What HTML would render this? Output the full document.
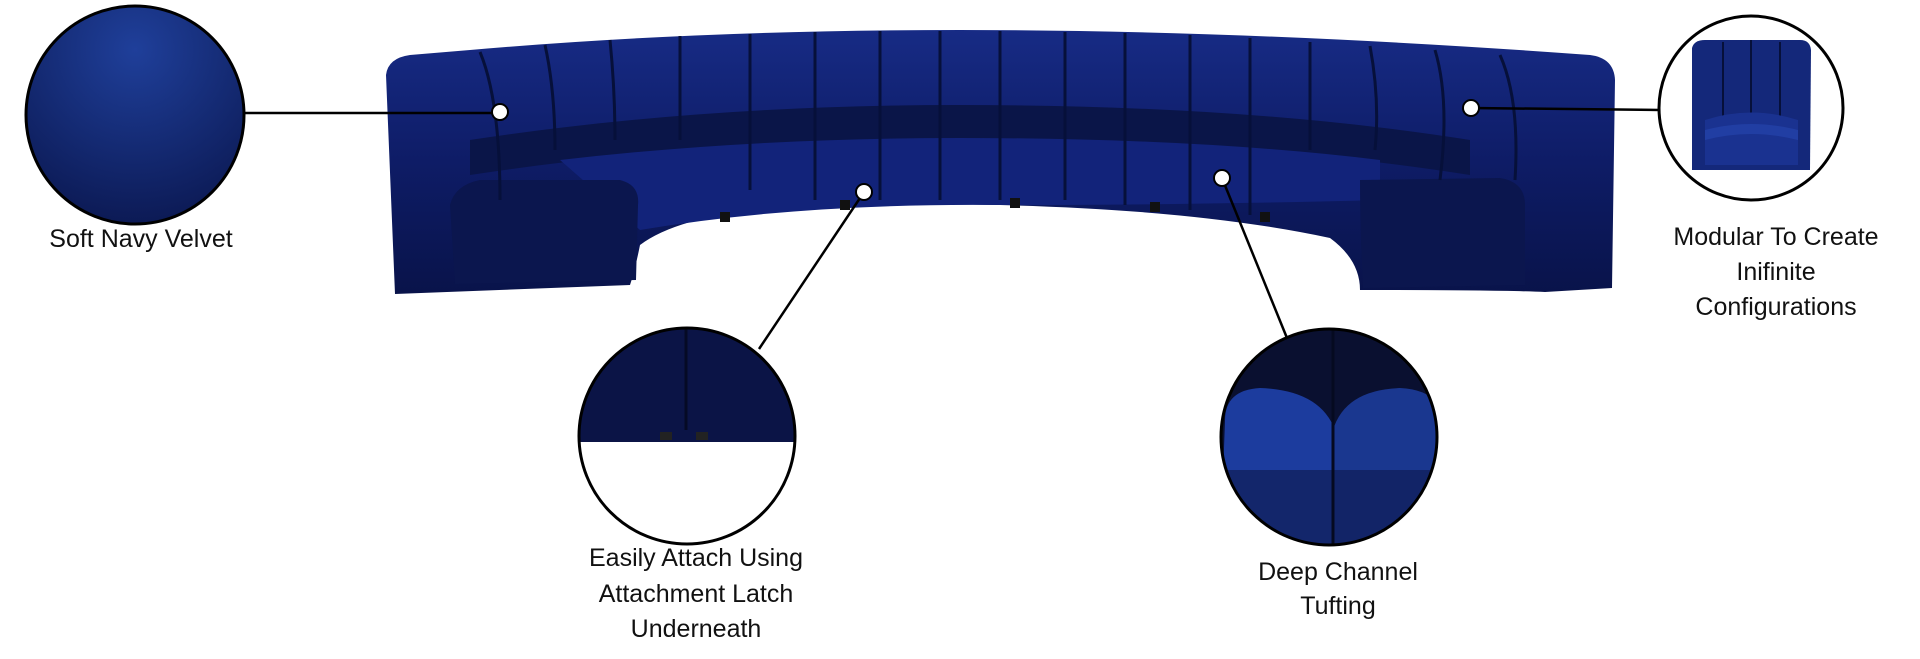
<!DOCTYPE html>
<html><head><meta charset="utf-8"><style>
html,body{margin:0;padding:0;background:#fff;width:1920px;height:659px;overflow:hidden}
svg{display:block}
text{font-family:"Liberation Sans",sans-serif;font-size:25px;fill:#111;text-anchor:middle}
</style></head><body>
<svg width="1920" height="659" viewBox="0 0 1920 659" xmlns="http://www.w3.org/2000/svg">
<defs>
<radialGradient id="vel" cx="50%" cy="20%" r="80%">
<stop offset="0" stop-color="#1f3f9a"/><stop offset="1" stop-color="#0c1a55"/></radialGradient>
<linearGradient id="sofa" x1="0" y1="0" x2="0" y2="1">
<stop offset="0" stop-color="#172b85"/><stop offset="0.5" stop-color="#0e1c66"/><stop offset="1" stop-color="#09134a"/></linearGradient>
<clipPath id="c1"><circle cx="687" cy="436" r="107"/></clipPath>
<clipPath id="c2"><circle cx="1329" cy="437" r="107"/></clipPath>
<clipPath id="c3"><circle cx="1751" cy="108" r="91"/></clipPath>
</defs>

<!-- sofa body -->
<path d="M386,75 Q388,58 410,55 L470,50 Q700,30 960,30 Q1250,30 1590,55 Q1614,58 1615,80 L1612,288 L1545,292 Q1500,290 1360,290 Q1360,260 1330,238 Q1200,210 1000,205 Q880,202 780,208 Q680,215 640,245 Q635,270 630,285 L395,294 Z" fill="url(#sofa)"/>
<!-- seat band -->
<path d="M470,140 Q700,105 960,105 Q1250,105 1470,140 L1470,175 Q1250,140 960,140 Q700,140 470,175 Z" fill="#0a1548"/>
<path d="M560,160 Q750,138 960,138 Q1200,138 1380,160 L1380,200 Q1200,205 1000,205 Q800,203 640,230 Z" fill="#12237a"/>
<!-- arms -->
<path d="M450,205 Q455,185 480,180 L620,180 Q640,185 638,205 L636,280 L455,284 Z" fill="#0b164e"/>
<path d="M1360,180 L1500,178 Q1525,182 1525,205 L1525,285 L1363,288 Q1360,230 1360,180 Z" fill="#0b164e"/>
<!-- channels -->
<g stroke="#06103a" stroke-width="3" fill="none">
<path d="M480,52 Q500,100 500,200"/><path d="M545,45 Q555,90 555,150"/><path d="M610,40 Q615,90 615,140"/>
<path d="M680,36 L680,140"/><path d="M750,34 L750,190"/><path d="M815,32 L815,200"/><path d="M880,31 L880,200"/>
<path d="M940,31 L940,200"/><path d="M1000,31 L1000,200"/><path d="M1065,32 L1065,200"/><path d="M1125,33 L1125,205"/>
<path d="M1190,35 L1190,210"/><path d="M1250,38 L1250,215"/><path d="M1310,42 L1310,150"/><path d="M1370,46 Q1380,100 1375,150"/>
<path d="M1435,50 Q1450,100 1440,180"/><path d="M1500,55 Q1520,100 1515,180"/>
</g>
<!-- feet -->
<g fill="#111"><rect x="720" y="212" width="10" height="10"/><rect x="840" y="200" width="10" height="10"/><rect x="1010" y="198" width="10" height="10"/><rect x="1150" y="202" width="10" height="10"/><rect x="1260" y="212" width="10" height="10"/></g>

<!-- connectors -->
<g stroke="#000" stroke-width="2.5">
<line x1="245" y1="113" x2="500" y2="113"/>
<line x1="1471" y1="108" x2="1660" y2="110"/>
<line x1="864" y1="192" x2="759" y2="349"/>
<line x1="1222" y1="178" x2="1289" y2="343"/>
</g>
<g fill="#fff" stroke="#000" stroke-width="2">
<circle cx="500" cy="112" r="8"/><circle cx="1471" cy="108" r="8"/><circle cx="864" cy="192" r="8"/><circle cx="1222" cy="178" r="8"/>
</g>

<!-- circle 1 velvet -->
<circle cx="135" cy="115" r="109" fill="url(#vel)" stroke="#000" stroke-width="3"/>

<!-- circle latch -->
<g clip-path="url(#c1)">
<rect x="570" y="320" width="240" height="122" fill="#0b1446"/>
<line x1="686" y1="320" x2="686" y2="430" stroke="#050a25" stroke-width="3"/>
<rect x="660" y="432" width="12" height="8" fill="#222"/><rect x="696" y="432" width="12" height="8" fill="#222"/>
<rect x="570" y="442" width="240" height="110" fill="#fff"/>
</g>
<circle cx="687" cy="436" r="108" fill="none" stroke="#000" stroke-width="3"/>

<!-- circle tufting -->
<g clip-path="url(#c2)">
<rect x="1215" y="325" width="230" height="230" fill="#0a1030"/>
<path d="M1225,420 Q1225,390 1260,388 Q1320,390 1335,430 L1335,560 L1220,560 Z" fill="#1c3c9e"/>
<path d="M1333,430 Q1345,390 1400,388 Q1440,390 1442,420 L1442,560 L1333,560 Z" fill="#1a378f"/>
<rect x="1215" y="470" width="230" height="90" fill="#0f1d55" opacity="0.7"/>
<line x1="1333" y1="325" x2="1333" y2="560" stroke="#050a20" stroke-width="3"/>
</g>
<circle cx="1329" cy="437" r="108" fill="none" stroke="#000" stroke-width="3"/>

<!-- circle modular -->
<g clip-path="url(#c3)">
<rect x="1660" y="17" width="182" height="182" fill="#fff"/>
<path d="M1692,48 Q1694,40 1705,40 L1800,40 Q1810,40 1811,50 L1810,170 L1692,170 Z" fill="#14287a"/>
<g stroke="#06103a" stroke-width="2"><line x1="1723" y1="42" x2="1723" y2="120"/><line x1="1751" y1="40" x2="1751" y2="120"/><line x1="1780" y1="42" x2="1780" y2="120"/></g>
<path d="M1705,120 Q1751,105 1798,120 L1798,165 L1705,165 Z" fill="#1a3290"/>
<path d="M1705,130 Q1751,118 1798,130 L1798,140 Q1751,128 1705,140 Z" fill="#2746b0" opacity="0.6"/>
</g>
<circle cx="1751" cy="108" r="92" fill="none" stroke="#000" stroke-width="3"/>

<!-- labels -->
<text x="141" y="247">Soft Navy Velvet</text>
<text x="1776" y="245">Modular To Create</text>
<text x="1776" y="280">Inifinite</text>
<text x="1776" y="315">Configurations</text>
<text x="696" y="566">Easily Attach Using</text>
<text x="696" y="602">Attachment Latch</text>
<text x="696" y="637">Underneath</text>
<text x="1338" y="580">Deep Channel</text>
<text x="1338" y="614">Tufting</text>
</svg>
</body></html>
